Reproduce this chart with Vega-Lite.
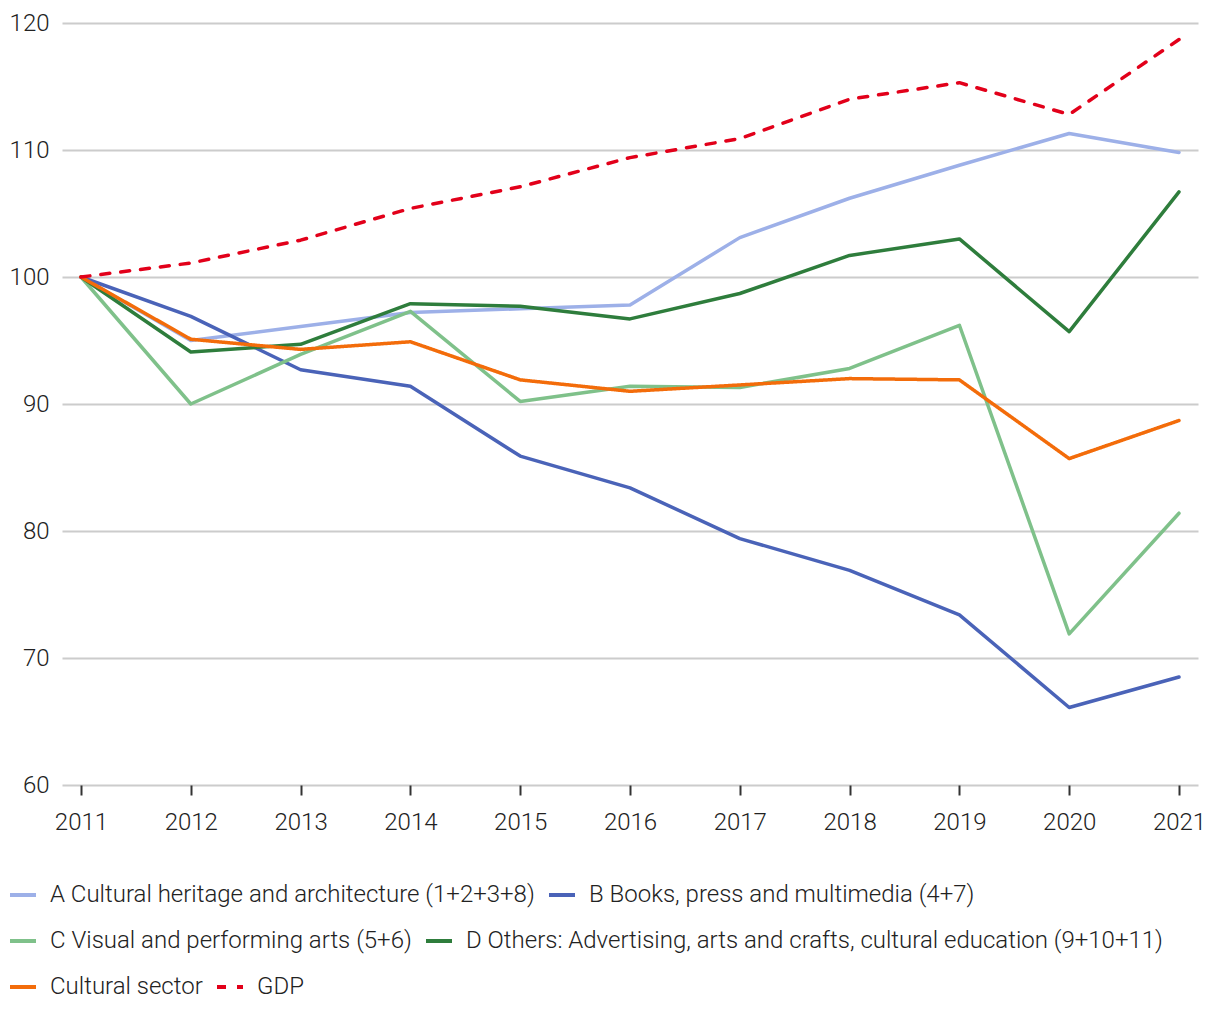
{
  "$schema": "https://vega.github.io/schema/vega-lite/v6.json",
  "width": 1136,
  "height": 762,
  "autosize": "none",
  "padding": {"left": 62, "top": 23, "right": 22, "bottom": 235},
  "background": "white",
  "config": {
    "font": "Roboto",
    "view": {"stroke": null},
    "axis": {"labelFont": "Roboto", "labelFontWeight": 300, "labelFontSize": 24, "labelColor": "#222222"},
    "legend": {
      "title": null, "orient": "none", "legendX": -54,
      "direction": "horizontal",
      "symbolType": "stroke", "symbolSize": 676, "symbolStrokeWidth": 4,
      "labelFont": "Roboto", "labelFontWeight": 300, "labelFontSize": 24, "labelColor": "#222222",
      "labelOffset": 12, "columnPadding": 6, "labelLimit": 1000
    }
  },
  "data": {
    "values": [
      {"year": "2011", "series": "A Cultural heritage and architecture (1+2+3+8)", "value": 100},
      {"year": "2012", "series": "A Cultural heritage and architecture (1+2+3+8)", "value": 95.0},
      {"year": "2013", "series": "A Cultural heritage and architecture (1+2+3+8)", "value": 96.1},
      {"year": "2014", "series": "A Cultural heritage and architecture (1+2+3+8)", "value": 97.2},
      {"year": "2015", "series": "A Cultural heritage and architecture (1+2+3+8)", "value": 97.5},
      {"year": "2016", "series": "A Cultural heritage and architecture (1+2+3+8)", "value": 97.8},
      {"year": "2017", "series": "A Cultural heritage and architecture (1+2+3+8)", "value": 103.1},
      {"year": "2018", "series": "A Cultural heritage and architecture (1+2+3+8)", "value": 106.2},
      {"year": "2019", "series": "A Cultural heritage and architecture (1+2+3+8)", "value": 108.8},
      {"year": "2020", "series": "A Cultural heritage and architecture (1+2+3+8)", "value": 111.3},
      {"year": "2021", "series": "A Cultural heritage and architecture (1+2+3+8)", "value": 109.8},
      {"year": "2011", "series": "B Books, press and multimedia (4+7)", "value": 100},
      {"year": "2012", "series": "B Books, press and multimedia (4+7)", "value": 96.9},
      {"year": "2013", "series": "B Books, press and multimedia (4+7)", "value": 92.7},
      {"year": "2014", "series": "B Books, press and multimedia (4+7)", "value": 91.4},
      {"year": "2015", "series": "B Books, press and multimedia (4+7)", "value": 85.9},
      {"year": "2016", "series": "B Books, press and multimedia (4+7)", "value": 83.4},
      {"year": "2017", "series": "B Books, press and multimedia (4+7)", "value": 79.4},
      {"year": "2018", "series": "B Books, press and multimedia (4+7)", "value": 76.9},
      {"year": "2019", "series": "B Books, press and multimedia (4+7)", "value": 73.4},
      {"year": "2020", "series": "B Books, press and multimedia (4+7)", "value": 66.1},
      {"year": "2021", "series": "B Books, press and multimedia (4+7)", "value": 68.5},
      {"year": "2011", "series": "C Visual and performing arts (5+6)", "value": 100},
      {"year": "2012", "series": "C Visual and performing arts (5+6)", "value": 90.0},
      {"year": "2013", "series": "C Visual and performing arts (5+6)", "value": 93.9},
      {"year": "2014", "series": "C Visual and performing arts (5+6)", "value": 97.3},
      {"year": "2015", "series": "C Visual and performing arts (5+6)", "value": 90.2},
      {"year": "2016", "series": "C Visual and performing arts (5+6)", "value": 91.4},
      {"year": "2017", "series": "C Visual and performing arts (5+6)", "value": 91.3},
      {"year": "2018", "series": "C Visual and performing arts (5+6)", "value": 92.8},
      {"year": "2019", "series": "C Visual and performing arts (5+6)", "value": 96.2},
      {"year": "2020", "series": "C Visual and performing arts (5+6)", "value": 71.9},
      {"year": "2021", "series": "C Visual and performing arts (5+6)", "value": 81.4},
      {"year": "2011", "series": "D Others: Advertising, arts and crafts, cultural education (9+10+11)", "value": 100},
      {"year": "2012", "series": "D Others: Advertising, arts and crafts, cultural education (9+10+11)", "value": 94.1},
      {"year": "2013", "series": "D Others: Advertising, arts and crafts, cultural education (9+10+11)", "value": 94.7},
      {"year": "2014", "series": "D Others: Advertising, arts and crafts, cultural education (9+10+11)", "value": 97.9},
      {"year": "2015", "series": "D Others: Advertising, arts and crafts, cultural education (9+10+11)", "value": 97.7},
      {"year": "2016", "series": "D Others: Advertising, arts and crafts, cultural education (9+10+11)", "value": 96.7},
      {"year": "2017", "series": "D Others: Advertising, arts and crafts, cultural education (9+10+11)", "value": 98.7},
      {"year": "2018", "series": "D Others: Advertising, arts and crafts, cultural education (9+10+11)", "value": 101.7},
      {"year": "2019", "series": "D Others: Advertising, arts and crafts, cultural education (9+10+11)", "value": 103.0},
      {"year": "2020", "series": "D Others: Advertising, arts and crafts, cultural education (9+10+11)", "value": 95.7},
      {"year": "2021", "series": "D Others: Advertising, arts and crafts, cultural education (9+10+11)", "value": 106.7},
      {"year": "2011", "series": "Cultural sector", "value": 100},
      {"year": "2012", "series": "Cultural sector", "value": 95.1},
      {"year": "2013", "series": "Cultural sector", "value": 94.3},
      {"year": "2014", "series": "Cultural sector", "value": 94.9},
      {"year": "2015", "series": "Cultural sector", "value": 91.9},
      {"year": "2016", "series": "Cultural sector", "value": 91.0},
      {"year": "2017", "series": "Cultural sector", "value": 91.5},
      {"year": "2018", "series": "Cultural sector", "value": 92.0},
      {"year": "2019", "series": "Cultural sector", "value": 91.9},
      {"year": "2020", "series": "Cultural sector", "value": 85.7},
      {"year": "2021", "series": "Cultural sector", "value": 88.7},
      {"year": "2011", "series": "GDP", "value": 100},
      {"year": "2012", "series": "GDP", "value": 101.1},
      {"year": "2013", "series": "GDP", "value": 102.9},
      {"year": "2014", "series": "GDP", "value": 105.4},
      {"year": "2015", "series": "GDP", "value": 107.1},
      {"year": "2016", "series": "GDP", "value": 109.4},
      {"year": "2017", "series": "GDP", "value": 110.9},
      {"year": "2018", "series": "GDP", "value": 114.0},
      {"year": "2019", "series": "GDP", "value": 115.3},
      {"year": "2020", "series": "GDP", "value": 112.8},
      {"year": "2021", "series": "GDP", "value": 118.7}
    ]
  },
  "encoding": {
    "x": {
      "field": "year", "type": "ordinal",
      "scale": {"type": "point", "padding": 0.173},
      "axis": {"title": null, "labelAngle": 0, "grid": false, "domain": false, "tickColor": "#333333", "tickSize": 10, "tickWidth": 2, "labelPadding": 15}
    },
    "y": {
      "field": "value", "type": "quantitative",
      "scale": {"domain": [60, 120], "nice": false, "zero": false},
      "axis": {"title": null, "values": [60, 70, 80, 90, 100, 110, 120], "ticks": false, "domain": false, "gridColor": "#cccccc", "gridWidth": 2, "labelPadding": 13}
    }
  },
  "layer": [
    {
      "transform": [{"filter": {"field": "series", "oneOf": ["A Cultural heritage and architecture (1+2+3+8)", "B Books, press and multimedia (4+7)"]}}],
      "mark": {"type": "line", "strokeWidth": 3.5, "strokeCap": "round", "strokeJoin": "round"},
      "encoding": {
        "color": {
          "field": "series", "type": "nominal",
          "scale": {"domain": ["A Cultural heritage and architecture (1+2+3+8)", "B Books, press and multimedia (4+7)"], "range": ["#9DB0E8", "#4A63B8"]},
          "legend": {"legendY": 857}
        }
      }
    },
    {
      "transform": [{"filter": {"field": "series", "oneOf": ["C Visual and performing arts (5+6)", "D Others: Advertising, arts and crafts, cultural education (9+10+11)"]}}],
      "mark": {"type": "line", "strokeWidth": 3.5, "strokeCap": "round", "strokeJoin": "round"},
      "encoding": {
        "color": {
          "field": "series", "type": "nominal",
          "scale": {"domain": ["C Visual and performing arts (5+6)", "D Others: Advertising, arts and crafts, cultural education (9+10+11)"], "range": ["#7FC18A", "#2E7D3C"]},
          "legend": {"legendY": 903}
        }
      }
    },
    {
      "transform": [{"filter": {"field": "series", "oneOf": ["Cultural sector", "GDP"]}}],
      "mark": {"type": "line", "strokeWidth": 3.5, "strokeCap": "round", "strokeJoin": "round"},
      "encoding": {
        "color": {
          "field": "series", "type": "nominal",
          "scale": {"domain": ["Cultural sector", "GDP"], "range": ["#F36C0A", "#E2001A"]},
          "legend": {"legendY": 949}
        },
        "strokeDash": {
          "field": "series", "type": "nominal",
          "scale": {"domain": ["Cultural sector", "GDP"], "range": [[1, 0], [9, 11]]},
          "legend": {"legendY": 949}
        }
      }
    }
  ],
  "resolve": {"scale": {"color": "independent", "strokeDash": "independent"}, "legend": {"color": "independent", "strokeDash": "independent"}}
}
